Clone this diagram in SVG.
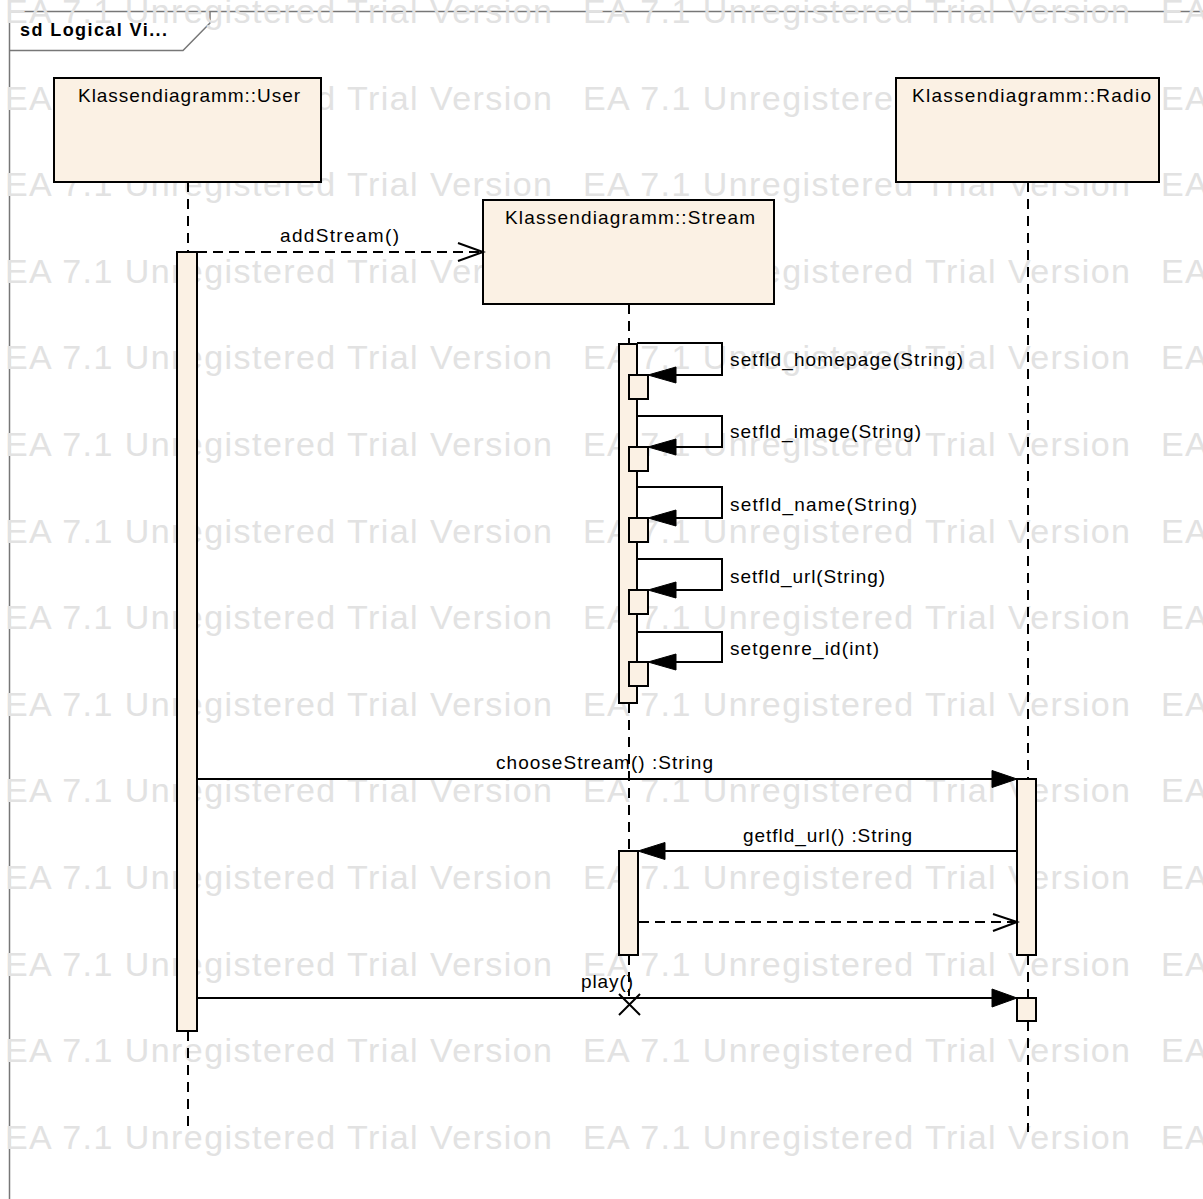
<svg xmlns="http://www.w3.org/2000/svg" width="1203" height="1199" viewBox="0 0 1203 1199">
<style>
text{font-family:"Liberation Sans",Arial,sans-serif;}
.wm{font-size:34px;fill:#e2e2e2;}
.lbl{font-size:19px;fill:#000;}
.box{fill:#fbf1e4;stroke:#000;stroke-width:2;}
.ln{fill:none;stroke:#000;stroke-width:2;}
.life{fill:none;stroke:#000;stroke-width:2;stroke-dasharray:10 7;}
.dash{fill:none;stroke:#000;stroke-width:2;stroke-dasharray:10 6;}
.frame{fill:none;stroke:#777;stroke-width:1.5;}
.head{fill:#000;stroke:#000;stroke-width:1;}
</style>
<rect x="0" y="0" width="1203" height="1199" fill="#fff"/>
<g id="frame">
<path class="frame" d="M9.5 1199 V11.5 H1203"/>
<path class="frame" d="M9.5 50.5 H183 L210 23 V11.5"/>
</g>
<g id="watermark">
<text class="wm" x="5" y="23" textLength="547" lengthAdjust="spacing">EA 7.1 Unregistered Trial Version</text>
<text class="wm" x="583" y="23" textLength="547" lengthAdjust="spacing">EA 7.1 Unregistered Trial Version</text>
<text class="wm" x="1161" y="23" textLength="547" lengthAdjust="spacing">EA 7.1 Unregistered Trial Version</text>
<text class="wm" x="5" y="109.6" textLength="547" lengthAdjust="spacing">EA 7.1 Unregistered Trial Version</text>
<text class="wm" x="583" y="109.6" textLength="547" lengthAdjust="spacing">EA 7.1 Unregistered Trial Version</text>
<text class="wm" x="1161" y="109.6" textLength="547" lengthAdjust="spacing">EA 7.1 Unregistered Trial Version</text>
<text class="wm" x="5" y="196.2" textLength="547" lengthAdjust="spacing">EA 7.1 Unregistered Trial Version</text>
<text class="wm" x="583" y="196.2" textLength="547" lengthAdjust="spacing">EA 7.1 Unregistered Trial Version</text>
<text class="wm" x="1161" y="196.2" textLength="547" lengthAdjust="spacing">EA 7.1 Unregistered Trial Version</text>
<text class="wm" x="5" y="282.8" textLength="547" lengthAdjust="spacing">EA 7.1 Unregistered Trial Version</text>
<text class="wm" x="583" y="282.8" textLength="547" lengthAdjust="spacing">EA 7.1 Unregistered Trial Version</text>
<text class="wm" x="1161" y="282.8" textLength="547" lengthAdjust="spacing">EA 7.1 Unregistered Trial Version</text>
<text class="wm" x="5" y="369.4" textLength="547" lengthAdjust="spacing">EA 7.1 Unregistered Trial Version</text>
<text class="wm" x="583" y="369.4" textLength="547" lengthAdjust="spacing">EA 7.1 Unregistered Trial Version</text>
<text class="wm" x="1161" y="369.4" textLength="547" lengthAdjust="spacing">EA 7.1 Unregistered Trial Version</text>
<text class="wm" x="5" y="456" textLength="547" lengthAdjust="spacing">EA 7.1 Unregistered Trial Version</text>
<text class="wm" x="583" y="456" textLength="547" lengthAdjust="spacing">EA 7.1 Unregistered Trial Version</text>
<text class="wm" x="1161" y="456" textLength="547" lengthAdjust="spacing">EA 7.1 Unregistered Trial Version</text>
<text class="wm" x="5" y="542.6" textLength="547" lengthAdjust="spacing">EA 7.1 Unregistered Trial Version</text>
<text class="wm" x="583" y="542.6" textLength="547" lengthAdjust="spacing">EA 7.1 Unregistered Trial Version</text>
<text class="wm" x="1161" y="542.6" textLength="547" lengthAdjust="spacing">EA 7.1 Unregistered Trial Version</text>
<text class="wm" x="5" y="629.2" textLength="547" lengthAdjust="spacing">EA 7.1 Unregistered Trial Version</text>
<text class="wm" x="583" y="629.2" textLength="547" lengthAdjust="spacing">EA 7.1 Unregistered Trial Version</text>
<text class="wm" x="1161" y="629.2" textLength="547" lengthAdjust="spacing">EA 7.1 Unregistered Trial Version</text>
<text class="wm" x="5" y="715.8" textLength="547" lengthAdjust="spacing">EA 7.1 Unregistered Trial Version</text>
<text class="wm" x="583" y="715.8" textLength="547" lengthAdjust="spacing">EA 7.1 Unregistered Trial Version</text>
<text class="wm" x="1161" y="715.8" textLength="547" lengthAdjust="spacing">EA 7.1 Unregistered Trial Version</text>
<text class="wm" x="5" y="802.4" textLength="547" lengthAdjust="spacing">EA 7.1 Unregistered Trial Version</text>
<text class="wm" x="583" y="802.4" textLength="547" lengthAdjust="spacing">EA 7.1 Unregistered Trial Version</text>
<text class="wm" x="1161" y="802.4" textLength="547" lengthAdjust="spacing">EA 7.1 Unregistered Trial Version</text>
<text class="wm" x="5" y="889" textLength="547" lengthAdjust="spacing">EA 7.1 Unregistered Trial Version</text>
<text class="wm" x="583" y="889" textLength="547" lengthAdjust="spacing">EA 7.1 Unregistered Trial Version</text>
<text class="wm" x="1161" y="889" textLength="547" lengthAdjust="spacing">EA 7.1 Unregistered Trial Version</text>
<text class="wm" x="5" y="975.6" textLength="547" lengthAdjust="spacing">EA 7.1 Unregistered Trial Version</text>
<text class="wm" x="583" y="975.6" textLength="547" lengthAdjust="spacing">EA 7.1 Unregistered Trial Version</text>
<text class="wm" x="1161" y="975.6" textLength="547" lengthAdjust="spacing">EA 7.1 Unregistered Trial Version</text>
<text class="wm" x="5" y="1062.2" textLength="547" lengthAdjust="spacing">EA 7.1 Unregistered Trial Version</text>
<text class="wm" x="583" y="1062.2" textLength="547" lengthAdjust="spacing">EA 7.1 Unregistered Trial Version</text>
<text class="wm" x="1161" y="1062.2" textLength="547" lengthAdjust="spacing">EA 7.1 Unregistered Trial Version</text>
<text class="wm" x="5" y="1148.8" textLength="547" lengthAdjust="spacing">EA 7.1 Unregistered Trial Version</text>
<text class="wm" x="583" y="1148.8" textLength="547" lengthAdjust="spacing">EA 7.1 Unregistered Trial Version</text>
<text class="wm" x="1161" y="1148.8" textLength="547" lengthAdjust="spacing">EA 7.1 Unregistered Trial Version</text>
</g>
<text x="20" y="36" font-size="18" font-weight="bold" textLength="147" lengthAdjust="spacing">sd Logical Vi...</text>
<g id="lifelines">
<path class="life" d="M188 182 V252 M188 1031 V1132"/>
<path class="life" d="M629 304 V344 M629 703 V851 M629 955 V996"/>
<path class="life" d="M1028 182 V779 M1028 955 V998 M1028 1021 V1132"/>
</g>
<g id="user">
<rect class="box" x="54" y="78" width="267" height="104"/>
<text class="lbl" x="78" y="102" textLength="222" lengthAdjust="spacing">Klassendiagramm::User</text>
<rect class="box" x="177" y="252" width="20" height="779"/>
</g>
<g id="stream">
<rect class="box" x="483" y="200" width="291" height="104"/>
<text class="lbl" x="505" y="224" textLength="250" lengthAdjust="spacing">Klassendiagramm::Stream</text>
<rect class="box" x="619" y="344" width="18" height="359"/>
<rect class="box" x="619" y="851" width="19" height="104"/>
</g>
<g id="radio">
<rect class="box" x="896" y="78" width="263" height="104"/>
<text class="lbl" x="912" y="102" textLength="239" lengthAdjust="spacing">Klassendiagramm::Radio</text>
<rect class="box" x="1017" y="779" width="19" height="176"/>
<rect class="box" x="1017" y="998" width="19" height="23"/>
</g>
<g id="connectors">
<path class="dash" d="M197 252 H482"/>
<path class="ln" d="M458 243 L483 252 L458 261"/>
<text class="lbl" x="280" y="242" textLength="119" lengthAdjust="spacing">addStream()</text>

<path class="ln" d="M637 343 H722 V375 H660"/>
<path class="head" d="M648 375 L676 367 L676 383 Z"/>
<rect class="box" x="629" y="375" width="19" height="24"/>
<text class="lbl" x="730" y="366" textLength="233" lengthAdjust="spacing">setfld_homepage(String)</text>

<path class="ln" d="M637 416 H722 V447 H660"/>
<path class="head" d="M648 447 L676 439 L676 455 Z"/>
<rect class="box" x="629" y="447" width="19" height="24"/>
<text class="lbl" x="730" y="438" textLength="191" lengthAdjust="spacing">setfld_image(String)</text>

<path class="ln" d="M637 487 H722 V518 H660"/>
<path class="head" d="M648 518 L676 510 L676 526 Z"/>
<rect class="box" x="629" y="518" width="19" height="24"/>
<text class="lbl" x="730" y="511" textLength="187" lengthAdjust="spacing">setfld_name(String)</text>

<path class="ln" d="M637 559 H722 V590 H660"/>
<path class="head" d="M648 590 L676 582 L676 598 Z"/>
<rect class="box" x="629" y="590" width="19" height="24"/>
<text class="lbl" x="730" y="583" textLength="155" lengthAdjust="spacing">setfld_url(String)</text>

<path class="ln" d="M637 632 H722 V662 H660"/>
<path class="head" d="M648 662 L676 654 L676 670 Z"/>
<rect class="box" x="629" y="662" width="19" height="24"/>
<text class="lbl" x="730" y="655" textLength="149" lengthAdjust="spacing">setgenre_id(int)</text>

<path class="ln" d="M198 779 H1000"/>
<path class="head" d="M1017 779 L992 770.5 L992 787.5 Z"/>
<text class="lbl" x="496" y="769" textLength="217" lengthAdjust="spacing">chooseStream() :String</text>

<path class="ln" d="M1017 851 H655"/>
<path class="head" d="M638 851 L665 842.5 L665 859.5 Z"/>
<text class="lbl" x="743" y="842" textLength="169" lengthAdjust="spacing">getfld_url() :String</text>

<path class="dash" d="M639 922 H1016"/>
<path class="ln" d="M993 914 L1017 922 L993 931"/>

<path class="ln" d="M198 998 H1000"/>
<path class="head" d="M1017 998 L992 989 L992 1007 Z"/>
<text class="lbl" x="581" y="988" textLength="52" lengthAdjust="spacing">play()</text>
<path class="ln" d="M619 994 L640 1015 M640 994 L619 1015"/>
</g>
</svg>
